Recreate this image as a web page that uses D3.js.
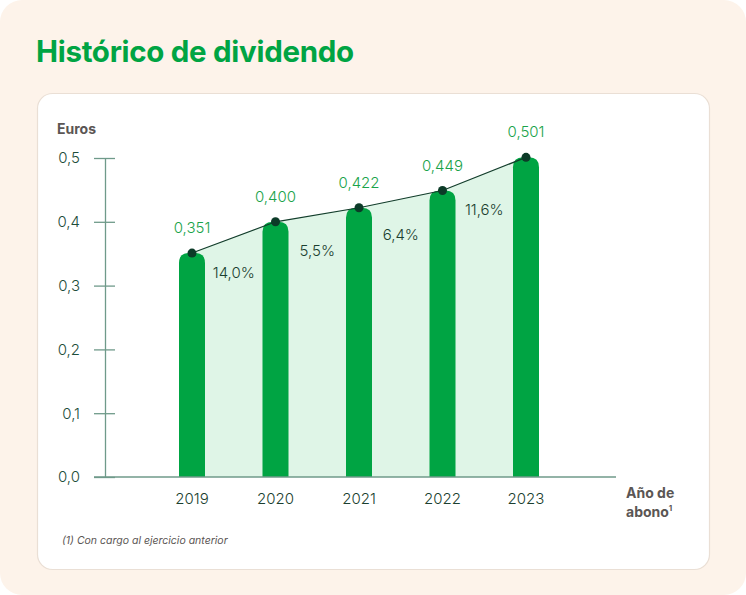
<!DOCTYPE html>
<html>
<head>
<meta charset="utf-8">
<script src="https://cdn.jsdelivr.net/npm/d3@7/dist/d3.min.js"></script>
<style>
  html, body { margin: 0; padding: 0; background: #ffffff; }
  svg { display: block; }
</style>
</head>
<body>
<svg id="chart" width="746" height="595"></svg>
<script>
// ---- data ----
const years = ["2019", "2020", "2021", "2022", "2023"];
const dividends = [0.351, 0.400, 0.422, 0.449, 0.501];
const valueLabels = ["0,351", "0,400", "0,422", "0,449", "0,501"];
const growthLabels = ["14,0%", "5,5%", "6,4%", "11,6%"];
const yTicks = [0, 0.1, 0.2, 0.3, 0.4, 0.5];
const yTickLabels = ["0,0", "0,1", "0,2", "0,3", "0,4", "0,5"];

const svg = d3.select("#chart");
const font = "Inter, 'Noto Sans', sans-serif";

// background
svg.append("rect").attr("x", 0).attr("y", 0).attr("width", 746).attr("height", 595)
  .attr("rx", 22).attr("fill", "#fdf3ea");
// card
svg.append("rect").attr("x", 37.5).attr("y", 93.5).attr("width", 672).attr("height", 476)
  .attr("rx", 15).attr("fill", "#ffffff").attr("stroke", "#eadfd5").attr("stroke-width", 1.2);

// title
svg.append("text").attr("x", 36).attr("y", 62)
  .attr("font-family", font).attr("font-weight", 700).attr("font-size", 29.5)
  .attr("letter-spacing", -0.3)
  .attr("fill", "#00a443").text("Histórico de dividendo");

const x = d3.scalePoint().domain(years).range([192, 526]);
const y = d3.scaleLinear().domain([0, 0.5]).range([477, 158]);
const barW = 26;

const data = years.map((yr, i) => ({ yr, v: dividends[i], label: valueLabels[i] }));

// area
svg.append("path").datum(data)
  .attr("d", d3.area().x(d => x(d.yr)).y0(y(0)).y1(d => y(d.v)))
  .attr("fill", "#dff5e7");

// bars with rounded tops
const r = 10;
svg.selectAll("path.bar").data(data).enter().append("path").attr("class", "bar")
  .attr("d", d => {
    const x0 = x(d.yr) - barW / 2, x1 = x(d.yr) + barW / 2;
    const top = y(d.v), bot = y(0);
    return `M${x0},${bot}L${x0},${top + r}Q${x0},${top} ${x0 + r},${top}L${x1 - r},${top}Q${x1},${top} ${x1},${top + r}L${x1},${bot}Z`;
  })
  .attr("fill", "#00a443");

// axis
const axisG = svg.append("g").attr("transform", "translate(105,0)");
const yAxis = d3.axisLeft(y).tickValues(yTicks).tickFormat((d, i) => yTickLabels[i])
  .tickSizeInner(0).tickSizeOuter(0).tickPadding(25);
axisG.call(yAxis);
axisG.select(".domain").attr("stroke", "#6f9a8a").attr("stroke-width", 1.3);
axisG.selectAll(".tick text").attr("font-family", font).attr("font-size", 15)
  .attr("font-weight", 300).attr("fill", "#1d4d3a").attr("dy", "0.32em");
axisG.selectAll(".tick").append("line")
  .attr("x1", -11).attr("x2", 10).attr("stroke", "#6f9a8a").attr("stroke-width", 1.3);
// baseline
svg.append("line").attr("x1", 94).attr("x2", 616).attr("y1", y(0)).attr("y2", y(0))
  .attr("stroke", "#6f9a8a").attr("stroke-width", 1.3);

// line and dots
svg.append("path").datum(data)
  .attr("d", d3.line().x(d => x(d.yr)).y(d => y(d.v)))
  .attr("fill", "none").attr("stroke", "#123d2b").attr("stroke-width", 1.2);
svg.selectAll("circle.dot").data(data).enter().append("circle")
  .attr("cx", d => x(d.yr)).attr("cy", d => y(d.v)).attr("r", 4.5).attr("fill", "#0c3b28");

// value labels
svg.selectAll("text.val").data(data).enter().append("text")
  .attr("x", d => x(d.yr)).attr("y", d => y(d.v) - 20)
  .attr("text-anchor", "middle").attr("font-family", font).attr("font-size", 15)
  .attr("font-weight", 300).attr("fill", "#1aa34a").text(d => d.label);

// growth labels
svg.selectAll("text.g").data(growthLabels).enter().append("text")
  .attr("x", (d, i) => (x(years[i]) + x(years[i + 1])) / 2)
  .attr("y", (d, i) => y((dividends[i] + dividends[i + 1]) / 2) + 41)
  .attr("text-anchor", "middle").attr("font-family", font).attr("font-size", 15)
  .attr("font-weight", 300).attr("fill", "#1b3f30").text(d => d);

// year labels
svg.selectAll("text.yr").data(years).enter().append("text")
  .attr("x", d => x(d)).attr("y", 504)
  .attr("text-anchor", "middle").attr("font-family", font).attr("font-size", 15)
  .attr("font-weight", 300).attr("fill", "#1b3f30").text(d => d);

// axis titles
svg.append("text").attr("x", 57).attr("y", 134)
  .attr("font-family", font).attr("font-weight", 700).attr("font-size", 14)
  .attr("fill", "#5b5654").text("Euros");
const at = svg.append("text").attr("font-family", font).attr("font-weight", 700)
  .attr("font-size", 14).attr("fill", "#5b5654");
at.append("tspan").attr("x", 626).attr("y", 498).text("Año de");
at.append("tspan").attr("x", 626).attr("y", 517).text("abono");
at.append("tspan").attr("font-size", 8).attr("dy", -6).text("1");

// footnote
svg.append("text").attr("x", 62).attr("y", 544)
  .attr("font-family", font).attr("font-style", "italic").attr("font-size", 10.5)
  .attr("fill", "#5b5654").text("(1) Con cargo al ejercicio anterior");
</script>
</body>
</html>
